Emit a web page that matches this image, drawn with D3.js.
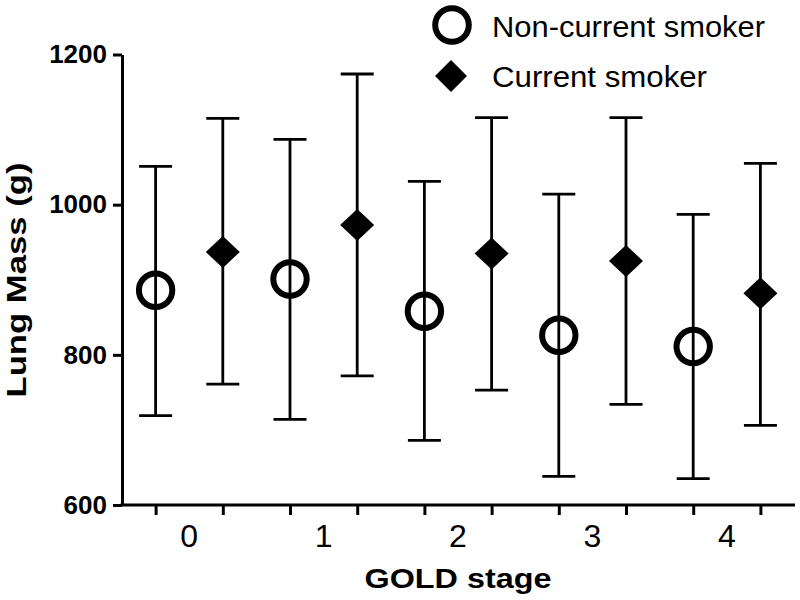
<!DOCTYPE html>
<html>
<head>
<meta charset="utf-8">
<script src="https://cdn.jsdelivr.net/npm/d3@7"></script>
<style>
  body { margin: 0; background: #fff; }
  svg { font-family: "Liberation Sans", Arial, sans-serif; }
</style>
</head>
<body>
<svg id="chart" width="800" height="600"></svg>
<script>
// GOLD stages and group summaries (mean with upper / lower whisker)
const stages = ['0', '1', '2', '3', '4']
const nonMean  = [886, 901, 858, 826, 811]
const nonUpper = [1051, 1087, 1031, 1014, 987]
const nonLower = [719, 714, 686, 638, 635]
const curMean  = [937, 973, 935, 925, 882]
const curUpper = [1115, 1174, 1116, 1116, 1055]
const curLower = [761, 772, 753, 734, 706]
const yTicks = [600, 800, 1000, 1200]
const groups = ['Non-current smoker', 'Current smoker']

const svg = d3.select('#chart')

// one slot per stage and group
const slots = stages.flatMap(s => [`${s}-non`, `${s}-cur`])
const x = d3.scalePoint().domain(slots).range([122, 794]).padding(0.5)
const y = d3.scaleLinear().domain([600, 1200]).range([505, 54.5])

const points = []
stages.forEach((s, i) => {
    points.push({slot: `${s}-non`, group: 'non', mean: nonMean[i], hi: nonUpper[i], lo: nonLower[i]})
    points.push({slot: `${s}-cur`, group: 'cur', mean: curMean[i], hi: curUpper[i], lo: curLower[i]})
})

// axes
const yAxis = d3.axisLeft(y).tickValues(yTicks).tickFormat(d3.format('d'))
                .tickSize(9).tickSizeOuter(0).tickPadding(6)
svg.append('g')
   .attr('transform', 'translate(122,0)')
   .call(yAxis)
   .call(g => g.select('.domain').attr('stroke-width', 3))
   .call(g => g.selectAll('.tick line').attr('stroke-width', 3))
   .call(g => g.selectAll('.tick text')
               .attr('font-size', 26).attr('font-weight', 'bold')
               .attr('font-family', '"Liberation Sans", Arial, sans-serif').attr('fill', '#000'))

const xAxis = d3.axisBottom(x).tickSize(10).tickSizeOuter(0).tickFormat('')
svg.append('g')
   .attr('transform', 'translate(0,505)')
   .call(xAxis)
   .call(g => g.select('.domain').attr('stroke-width', 3).attr('d', 'M120.5,0H795'))
   .call(g => g.selectAll('.tick line').attr('stroke-width', 3))

// stage labels centred under each pair
svg.append('g')
   .selectAll('text')
   .data(stages)
   .join('text')
     .attr('x', s => (x(`${s}-non`) + x(`${s}-cur`)) / 2)
     .attr('y', 547)
     .attr('text-anchor', 'middle')
     .attr('font-size', 32)
     .text(s => s)

// axis titles
svg.append('text')
   .attr('x', 458).attr('y', 588)
   .attr('text-anchor', 'middle')
   .attr('font-size', 28).attr('font-weight', 'bold')
   .attr('textLength', 187).attr('lengthAdjust', 'spacingAndGlyphs')
   .text('GOLD stage')

svg.append('text')
   .attr('transform', 'translate(26,280) rotate(-90)')
   .attr('text-anchor', 'middle')
   .attr('font-size', 27).attr('font-weight', 'bold')
   .attr('textLength', 235).attr('lengthAdjust', 'spacingAndGlyphs')
   .text('Lung Mass (g)')

// error bars
const bars = svg.append('g').attr('stroke', '#000').attr('stroke-width', 2.8)
bars.selectAll('line.stem')
    .data(points)
    .join('line')
      .attr('class', 'stem')
      .attr('x1', d => x(d.slot)).attr('x2', d => x(d.slot))
      .attr('y1', d => y(d.hi)).attr('y2', d => y(d.lo))
bars.selectAll('line.cap')
    .data(points.flatMap(d => [{slot: d.slot, v: d.hi}, {slot: d.slot, v: d.lo}]))
    .join('line')
      .attr('class', 'cap')
      .attr('x1', d => x(d.slot) - 16.5).attr('x2', d => x(d.slot) + 16.5)
      .attr('y1', d => y(d.v)).attr('y2', d => y(d.v))

const diamond = 'M0,-16L17,0L0,16L-17,0Z'

// markers
svg.append('g')
   .selectAll('circle')
   .data(points.filter(d => d.group === 'non'))
   .join('circle')
     .attr('cx', d => x(d.slot)).attr('cy', d => y(d.mean))
     .attr('r', 16.7)
     .attr('fill', 'none').attr('stroke', '#000').attr('stroke-width', 6)

svg.append('g')
   .selectAll('path')
   .data(points.filter(d => d.group === 'cur'))
   .join('path')
     .attr('transform', d => `translate(${x(d.slot)},${y(d.mean)})`)
     .attr('d', diamond)
     .attr('fill', '#000')

// legend
const legend = svg.append('g')
legend.append('circle')
      .attr('cx', 452).attr('cy', 25).attr('r', 16.8)
      .attr('fill', 'none').attr('stroke', '#000').attr('stroke-width', 6)
legend.append('path')
      .attr('transform', 'translate(451,76)')
      .attr('d', 'M0,-16L16,0L0,16L-16,0Z')
      .attr('fill', '#000')
legend.selectAll('text')
      .data(groups)
      .join('text')
        .attr('x', 492)
        .attr('y', (d, i) => i === 0 ? 37 : 87)
        .attr('font-size', 30)
        .attr('textLength', (d, i) => i === 0 ? 273 : 215)
        .attr('lengthAdjust', 'spacingAndGlyphs')
        .text(d => d)
</script>
</body>
</html>
